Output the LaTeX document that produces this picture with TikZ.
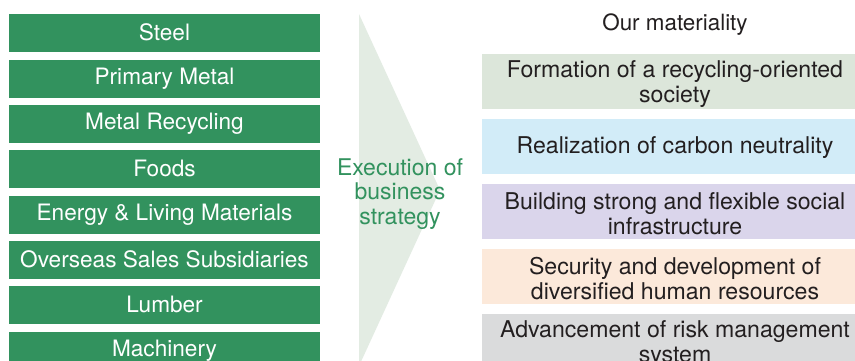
\documentclass[tikz,border=0pt]{standalone}
\usepackage{fontspec}
\setmainfont{TeX Gyre Heros}
\definecolor{segGreen}{HTML}{32925E}
\definecolor{arrowGreen}{HTML}{E3ECE3}
\definecolor{matGreen}{HTML}{DCE6DA}
\definecolor{matBlue}{HTML}{D2ECF8}
\definecolor{matPurple}{HTML}{DAD5EB}
\definecolor{matPeach}{HTML}{FCE9DA}
\definecolor{matGray}{HTML}{DADBDC}
\definecolor{darkText}{HTML}{231F20}
\tikzset{
  segbox/.style={fill=segGreen, text=white, minimum width=311pt, minimum height=38pt,
    inner sep=0pt, font=\fontsize{22.6}{25}\selectfont},
  matbox/.style={minimum width=386pt, minimum height=55pt, inner sep=0pt},
  mattext/.style={inner sep=0pt, text=darkText, align=center, font=\fontsize{23.1}{25}\selectfont},
}
\begin{document}
\begin{tikzpicture}[x=1pt,y=-1pt]
\clip (0,0) rectangle (855,360);
\fill[white] (0,0) rectangle (855,360);
% arrow
\fill[arrowGreen] (359,14) -- (440,190) -- (359,366) -- cycle;
\node[text=segGreen, align=center, font=\fontsize{23}{24.5}\selectfont] (exec) at (400,194) {Execution of\\business\\strategy};
% segments
\node[segbox] (steel) at (164.5,32.5) {Steel};
\node[segbox] (primary) at (164.5,78.5) {Primary Metal};
\node[segbox] (recycling) at (164.5,123.5) {Metal Recycling};
\node[segbox] (foods) at (164.5,168.5) {Foods};
\node[segbox] (energy) at (164.5,214.5) {Energy \& Living Materials};
\node[segbox] (overseas) at (164.5,259.5) {Overseas Sales Subsidiaries};
\node[segbox] (lumber) at (164.5,304.5) {Lumber};
\node[segbox] (machinery) at (164.5,350.5) {Machinery};
% materiality
\node[text=darkText, font=\fontsize{22.4}{25}\selectfont] (title) at (675,25) {Our materiality};
\node[matbox, fill=matGreen] (m1) at (675,81.5) {};
\node[matbox, fill=matBlue] (m2) at (675,146.5) {};
\node[matbox, fill=matPurple] (m3) at (675,211.5) {};
\node[matbox, fill=matPeach] (m4) at (675,276.5) {};
\node[matbox, fill=matGray] (m5) at (675,341.5) {};
\node[mattext] (m1t) at (675,84) {Formation of a recycling-oriented\\society};
\node[mattext] (m2t) at (675,148) {Realization of carbon neutrality};
\node[mattext] (m3t) at (675,214) {Building strong and flexible social\\infrastructure};
\node[mattext] (m4t) at (675,279) {Security and development of\\diversified human resources};
\node[mattext] (m5t) at (675,344) {Advancement of risk management\\system};
\end{tikzpicture}
\end{document}
